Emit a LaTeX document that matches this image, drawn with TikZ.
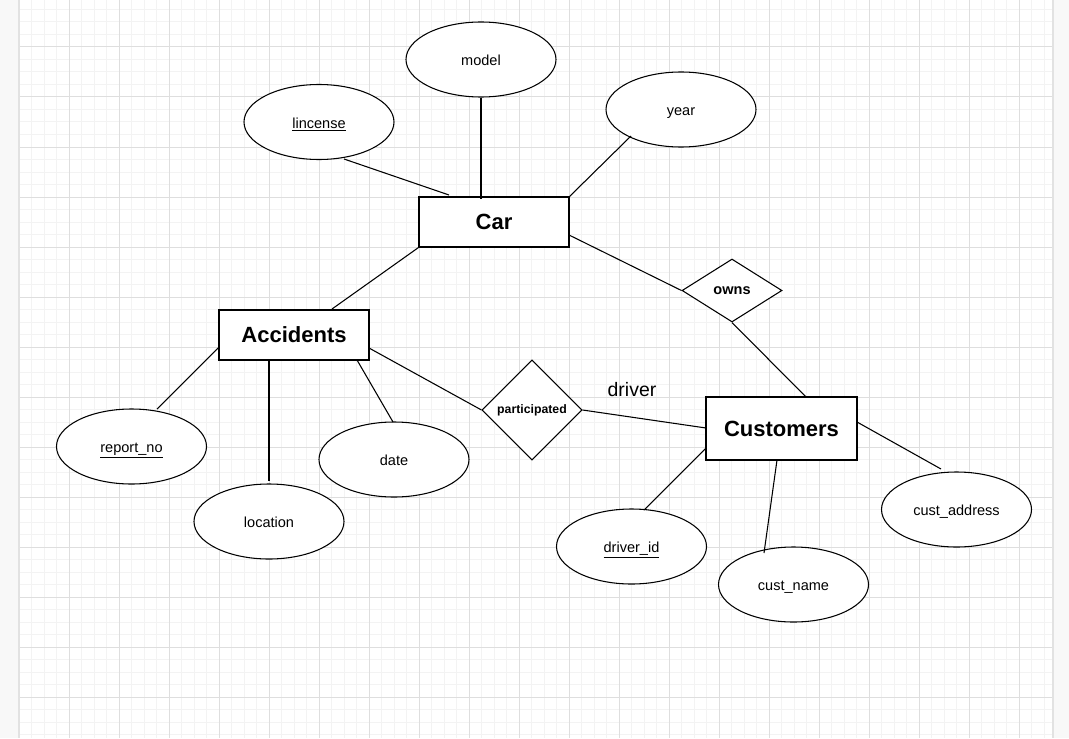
\documentclass[tikz,border=0pt]{standalone}
\usepackage{fontspec}
\setmainfont{Liberation Sans}
\usetikzlibrary{shapes.geometric,calc}
\definecolor{gridmajor}{HTML}{DEDEDE}
\definecolor{gridminor}{HTML}{F3F3F3}
\definecolor{margin}{HTML}{F8F8F8}
\definecolor{pageedge}{HTML}{E2E2E2}
\tikzset{
  attr/.style={draw=black, line width=0.8pt, ellipse, fill=white, minimum width=112.5pt, minimum height=56.25pt, inner sep=0pt, text height=10pt, text depth=1pt, font=\fontsize{10.9}{13}\selectfont},
  entity/.style={draw=black, line width=0.8pt, rectangle, fill=white, minimum width=112.5pt, minimum height=37.5pt, inner sep=0pt, font=\bfseries\fontsize{16.5}{20}\selectfont},
  relship/.style={draw=black, line width=0.8pt, diamond, fill=white, inner sep=0pt},
  link/.style={draw=black, line width=0.8pt},
  plainlabel/.style={inner sep=0pt, font=\fontsize{14.6}{17}\selectfont}
}
\begin{document}
\begin{tikzpicture}[x=0.75pt,y=-0.75pt]
\useasboundingbox (0,0) rectangle (1069,738);
% page background and grid
\fill[margin] (0,0) rectangle (1069,738);
\fill[white] (19,0) rectangle (1053,738);
\begin{scope}
\clip (19,0) rectangle (1053,738);
\foreach \i in {0,...,83} {\draw[gridminor, line width=0.75pt] ({19+12.5*\i},0) -- ({19+12.5*\i},738);}
\foreach \j in {0,...,59} {\draw[gridminor, line width=0.75pt] (19,{9.5+12.5*\j}) -- (1053,{9.5+12.5*\j});}
\foreach \i in {0,...,21} {\draw[gridmajor, line width=0.75pt] ({19+50*\i},0) -- ({19+50*\i},738);}
\foreach \j in {0,...,14} {\draw[gridmajor, line width=0.75pt] (19,{47+50*\j}) -- (1053,{47+50*\j});}
\end{scope}
\draw[pageedge, line width=0.9pt] (19,0) -- (19,738);
\draw[pageedge, line width=0.9pt] (1053,0) -- (1053,738);

% entities
\node[entity] (car) at (494,222) {Car};
\node[entity] (accidents) at (294,335) {Accidents};
\node[entity, minimum width=113.25pt, minimum height=47.25pt] (customers) at (781.5,428.5) {Customers};

% attributes
\node[attr] (model) at (481,59.5) {model};
\node[attr] (lincense) at (319,122) {\underline{lincense}};
\node[attr] (year) at (681,109.5) {year};
\node[attr] (report) at (131.5,446.5) {\underline{report\_no}};
\node[attr] (location) at (269,521.5) {location};
\node[attr] (date) at (394,459.5) {date};
\node[attr] (driverid) at (631.5,546.5) {\underline{driver\_id}};
\node[attr] (custname) at (793.5,584.5) {cust\_name};
\node[attr] (custaddr) at (956.5,509.5) {cust\_address};

% relationships
\node[relship, minimum width=75pt, minimum height=75pt, font=\bfseries\fontsize{9.2}{11}\selectfont] (participated) at (532,410) {participated};
\node[relship, minimum width=75pt, minimum height=47.25pt, font=\bfseries\fontsize{10.9}{13}\selectfont] (owns) at (732,290.5) {owns};

% label
\node[plainlabel] (driverlbl) at (632,390) {driver};

% connectors
\draw[link] ($(lincense)+(25,37)$) -- ($(car)+(-45,-27)$);
\draw[link] (model.south) -- ($(car)+(-13,-23)$);
\draw[link] ($(year)+(-50,26.5)$) -- (car.north east);
\draw[link] (car.south west) -- ($(accidents)+(38,-26)$);
\draw[link] ($(car)+(75,13)$) -- (owns.west);
\draw[link] (owns.south) -- ($(customers)+(24.5,-31.5)$);
\draw[link] ($(accidents)+(-75,12)$) -- ($(report)+(25.5,-37.5)$);
\draw[link] ($(accidents)+(-25,25)$) -- ($(location)+(0,-40.5)$);
\draw[link] ($(accidents)+(63,25)$) -- ($(date)+(-1,-37.5)$);
\draw[link] ($(accidents)+(75,13)$) -- (participated.west);
\draw[link] (participated.east) -- ($(customers)+(-75.5,-0.5)$);
\draw[link] ($(customers)+(-75.5,19.5)$) -- ($(driverid)+(12.5,-36.5)$);
\draw[link] ($(customers)+(-4.5,31.5)$) -- ($(custname)+(-29.5,-31.5)$);
\draw[link] ($(customers)+(75.5,-6.5)$) -- ($(custaddr)+(-15.5,-40.5)$);
\end{tikzpicture}
\end{document}
